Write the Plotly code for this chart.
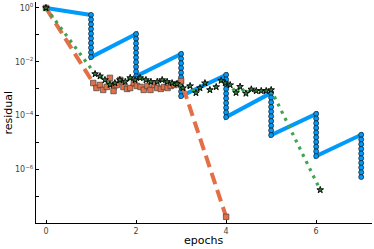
import plotly.graph_objects as go

# ---- data ----
# Blue: outer epochs with inner iterations (x repeated per inner step)
blue_x = [0] + [1]*10 + [2]*10 + [3]*10 + [4]*10 + [5]*10 + [6]*10 + [7]*10
blue_y = [1.0,
          0.55, 0.368, 0.246, 0.165, 0.110, 0.0737, 0.0493, 0.0330, 0.0221, 0.0148,
          0.107, 0.0716, 0.0479, 0.0320, 0.0214, 0.0143, 0.00959, 0.00642, 0.00429, 0.00287,
          0.0195, 0.0130, 0.00873, 0.00584, 0.00391, 0.00261, 0.00175, 0.00117, 0.000783, 0.000524,
          0.00324, 0.00217, 0.00145, 0.000970, 0.000649, 0.000434, 0.000290, 0.000194, 0.000130, 0.0000870,
          0.000692, 0.000463, 0.000310, 0.000207, 0.000139, 0.0000927, 0.0000620, 0.0000415, 0.0000278, 0.0000186,
          0.000115, 0.0000769, 0.0000514, 0.0000344, 0.0000230, 0.0000154, 0.0000103, 0.00000689, 0.00000461, 0.00000308,
          1.91e-5, 1.28e-5, 8.55e-6, 5.72e-6, 3.83e-6, 2.56e-6, 1.71e-6, 1.15e-6, 7.66e-7, 5.12e-7]

orange_x = [0, 1.05, 1.12, 1.20, 1.27, 1.35, 1.42, 1.50, 1.57, 1.65, 1.72, 1.80, 1.87, 1.95,
            2.02, 2.10, 2.17, 2.25, 2.32, 2.40, 2.47, 2.55, 2.62, 2.70, 2.77, 2.85, 2.92, 3.00, 4.0]
orange_y = [1.0, 1.61e-3, 1.05e-3, 1.36e-3, 8.9e-4, 1.15e-3, 2.5e-3, 8.1e-4, 1.36e-3, 2.1e-3,
            1.15e-3, 9.7e-4, 1.05e-3, 1.61e-3, 1.25e-3, 1.15e-3, 8.9e-4, 1.25e-3, 8.9e-4, 1.36e-3,
            1.05e-3, 9.7e-4, 1.15e-3, 1.05e-3, 1.25e-3, 1.36e-3, 1.48e-3, 1.9e-3, 1.7e-8]

green_x = [0, 1.09, 1.20, 1.31, 1.42, 1.53, 1.64, 1.76, 1.87, 1.98, 2.09, 2.22, 2.33, 2.47, 2.58,
           2.69, 2.80, 2.91, 3.04, 3.20, 3.33, 3.42, 3.53, 3.64, 3.78, 3.89, 3.98, 4.09, 4.22,
           4.31, 4.44, 4.56, 4.67, 4.78, 4.89, 5.00, 6.09]
green_y = [1.0, 3.5e-3, 2.9e-3, 2.1e-3, 1.4e-3, 1.6e-3, 2.1e-3, 1.8e-3, 2.5e-3, 2.1e-3, 2.5e-3,
           2.1e-3, 1.8e-3, 1.8e-3, 2.1e-3, 1.8e-3, 1.6e-3, 1.5e-3, 1.05e-3, 1.25e-3, 6.9e-4,
           1.05e-3, 1.6e-3, 8.9e-4, 1.15e-3, 2.0e-3, 1.6e-3, 1.36e-3, 7.0e-4, 1.18e-3, 6.6e-4,
           9.4e-4, 8.2e-4, 8.2e-4, 8.2e-4, 8.9e-4, 1.7e-7]

x_ticks = [0, 2, 4, 6]
y_tickvals = [1, 1e-1, 1e-2, 1e-3, 1e-4, 1e-5, 1e-6, 1e-7]
y_ticktext = ["10<sup>0</sup>", "", "10<sup>−2</sup>", "", "10<sup>−4</sup>", "", "10<sup>−6</sup>", ""]

BLUE = "#009AFA"
ORANGE = "#E26F46"
GREEN = "#3EA44E"

fig = go.Figure()
fig.add_trace(go.Scatter(
    x=blue_x, y=blue_y, mode="lines+markers",
    line=dict(color=BLUE, width=4),
    marker=dict(symbol="circle", size=5, color=BLUE, line=dict(color="#1a1a1a", width=0.7)),
))
fig.add_trace(go.Scatter(
    x=orange_x, y=orange_y, mode="lines+markers",
    line=dict(color=ORANGE, width=4, dash="12px,6px"),
    marker=dict(symbol="square", size=5.5, color=ORANGE, line=dict(color="#444444", width=0.7)),
))
fig.add_trace(go.Scatter(
    x=green_x, y=green_y, mode="lines+markers",
    line=dict(color=GREEN, width=3.2, dash="3px,5px"),
    marker=dict(symbol="star", size=5, color="#2f7a3a", line=dict(color="#000000", width=0.9)),
))

fig.update_layout(
    width=374, height=249,
    margin=dict(l=36, r=2, t=2, b=26, autoexpand=False),
    paper_bgcolor="white", plot_bgcolor="white",
    showlegend=False,
    font=dict(family="DejaVu Sans", size=8, color="#444444"),
    annotations=[
        dict(text="epochs", xref="paper", yref="paper", x=0.5, y=-0.081,
             xanchor="center", yanchor="middle", showarrow=False,
             font=dict(size=11, color="black")),
        dict(text="residual", xref="paper", yref="paper", x=-0.083, y=0.5,
             xanchor="center", yanchor="middle", showarrow=False, textangle=-90,
             font=dict(size=11, color="black")),
    ],
)
fig.update_xaxes(
    range=[-0.222, 7.24], tickvals=x_ticks, ticktext=[str(v) for v in x_ticks],
    showgrid=False, zeroline=False, showline=True, linecolor="black", linewidth=1,
    ticks="inside", ticklen=3, tickcolor="black", automargin=False,
)
fig.update_yaxes(
    type="log", range=[-8.0, 0.22], tickvals=y_tickvals, ticktext=y_ticktext,
    showgrid=False, zeroline=False, showline=True, linecolor="black", linewidth=1,
    ticks="inside", ticklen=3, tickcolor="black", automargin=False,
)

fig.write_html("out.html", config={"displayModeBar": False},
               post_script="document.body.style.margin='0px';")
